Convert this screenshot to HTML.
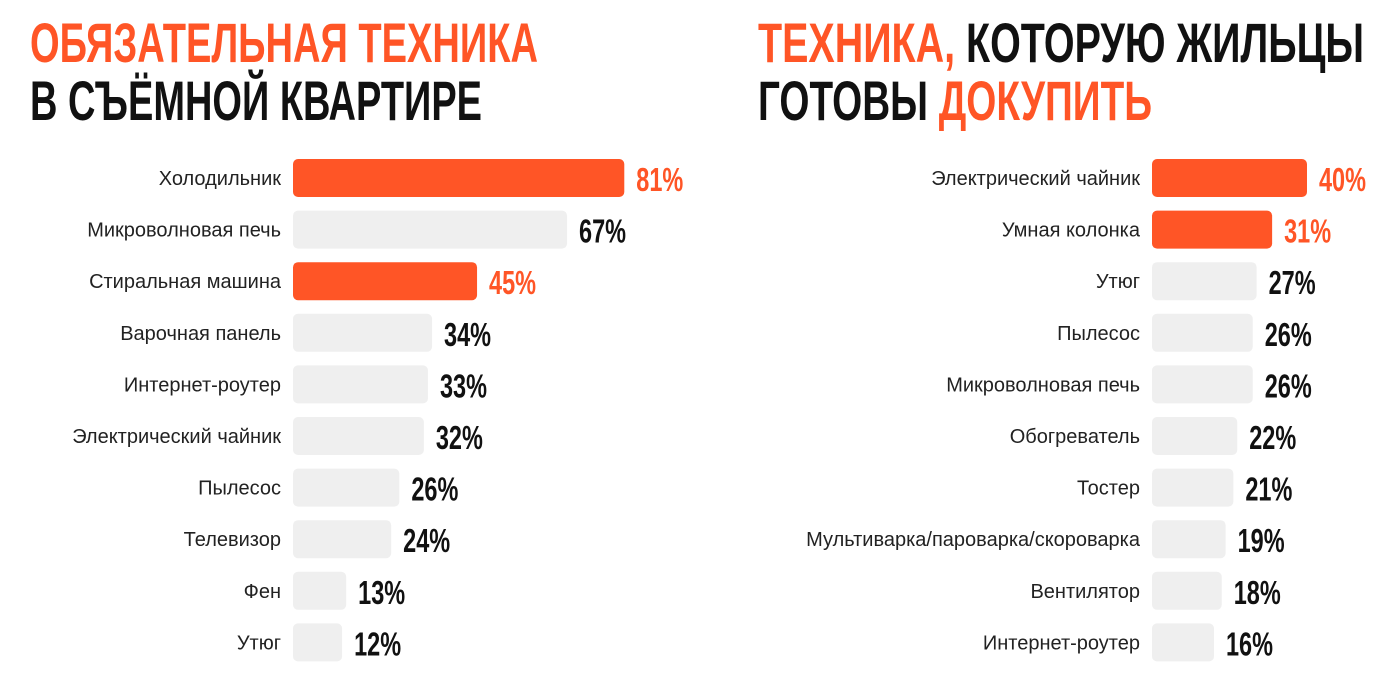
<!DOCTYPE html>
<html><head><meta charset="utf-8"><style>
html,body{margin:0;padding:0;background:#fff;}
svg{display:block;}
.t{font-family:"Liberation Sans","Noto Sans CJK SC",sans-serif;font-weight:bold;font-size:56px;}
.c{font-family:"Liberation Sans","Noto Sans CJK SC",sans-serif;font-size:20px;fill:#222;}
.v{font-family:"Liberation Sans","Noto Sans CJK SC",sans-serif;font-weight:bold;font-size:33px;}
</style></head><body>
<svg id="chart" width="1400" height="689" viewBox="0 0 1400 689">
<g>
<text class="t" x="30" y="62" fill="#FF5526" textLength="508" lengthAdjust="spacingAndGlyphs">ОБЯЗАТЕЛЬНАЯ ТЕХНИКА</text>
<text class="t" x="30" y="120" fill="#111" textLength="452" lengthAdjust="spacingAndGlyphs">В СЪЁМНОЙ КВАРТИРЕ</text>
</g>
<g>
<text class="t" x="758" y="62" textLength="606" lengthAdjust="spacingAndGlyphs"><tspan fill="#FF5526">ТЕХНИКА,</tspan><tspan fill="#111"> КОТОРУЮ ЖИЛЬЦЫ</tspan></text>
<text class="t" x="758" y="120" textLength="394" lengthAdjust="spacingAndGlyphs"><tspan fill="#111">ГОТОВЫ </tspan><tspan fill="#FF5526">ДОКУПИТЬ</tspan></text>
</g>
<g id="left"></g>
<g id="right"></g>
</svg>
<script>
const leftCategories=["Холодильник","Микроволновая печь","Стиральная машина","Варочная панель","Интернет-роутер","Электрический чайник","Пылесос","Телевизор","Фен","Утюг"];
const leftValues=[81,67,45,34,33,32,26,24,13,12];
const leftHighlight=[true,false,true,false,false,false,false,false,false,false];
const rightCategories=["Электрический чайник","Умная колонка","Утюг","Пылесос","Микроволновая печь","Обогреватель","Тостер","Мультиварка/пароварка/скороварка","Вентилятор","Интернет-роутер"];
const rightValues=[40,31,27,26,26,22,21,19,18,16];
const rightHighlight=[true,true,false,false,false,false,false,false,false,false];
const NS="http://www.w3.org/2000/svg";
function draw(gid,cats,vals,hl,x0,scale){
  const g=document.getElementById(gid);
  const y=i=>159+i*51.6;
  const xs=v=>v*scale;
  cats.forEach((c,i)=>{
    const r=document.createElementNS(NS,"rect");
    
    
    r.setAttribute("x",x0);r.setAttribute("y",y(i));
    r.setAttribute("width",xs(vals[i]));r.setAttribute("height",38);
    r.setAttribute("rx",5);r.setAttribute("fill",hl[i]?"#FF5526":"#EFEFEF");
    g.appendChild(r);
    const t=document.createElementNS(NS,"text");
    
    
    t.setAttribute("class","c");t.setAttribute("x",x0-12);t.setAttribute("y",y(i)+26);
    t.setAttribute("text-anchor","end");t.textContent=c;g.appendChild(t);
    const v=document.createElementNS(NS,"text");
    
    
    v.setAttribute("class","v");v.setAttribute("x",x0+xs(vals[i])+12);v.setAttribute("y",y(i)+32);
    v.setAttribute("fill",hl[i]?"#FF5526":"#111");
    v.setAttribute("textLength",47);v.setAttribute("lengthAdjust","spacingAndGlyphs");
    v.textContent=vals[i]+"%";g.appendChild(v);
  });
}
draw("left",leftCategories,leftValues,leftHighlight,293,4.09);
draw("right",rightCategories,rightValues,rightHighlight,1152,3.875);
</script>
</body></html>
